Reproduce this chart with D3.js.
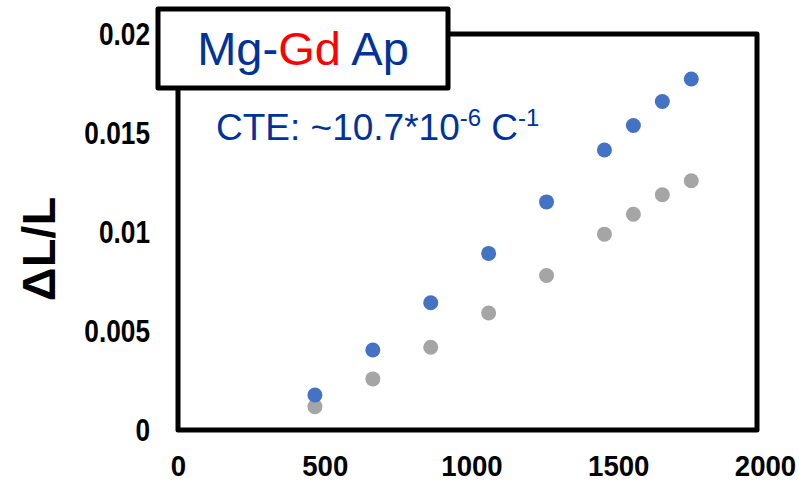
<!DOCTYPE html>
<html>
<head>
<meta charset="utf-8">
<script src="https://cdn.jsdelivr.net/npm/d3@7"></script>
<style>
  body { margin: 0; background: #fff; }
  svg text { font-family: "Liberation Sans", Arial, sans-serif; }
</style>
</head>
<body>
<svg id="chart" width="799" height="482"></svg>
<script>
// Temperature points (x) and dL/L for the two series
var temps = [473, 673, 873, 1073, 1273, 1473, 1573, 1673, 1773];
var blueVals = [0.00177, 0.00404, 0.00643, 0.00892, 0.01152, 0.01414, 0.01538, 0.01659, 0.01773];
var grayVals = [0.00118, 0.00258, 0.00418, 0.00591, 0.0078, 0.00989, 0.0109, 0.01188, 0.01259];
var xTicks = [0, 500, 1000, 1500, 2000];
var yTicks = [0, 0.005, 0.01, 0.015, 0.02];

var svg = d3.select("#chart");

// plot area
var plotLeft = 178, plotRight = 757, plotTop = 34, plotBottom = 430;
var x = d3.scaleLinear().domain([0, 2000]).range([plotLeft, plotRight]);
var y = d3.scaleLinear().domain([0, 0.02]).range([plotBottom, plotTop]);
// tick labels of the x axis sit a little wider than the frame
var xLab = d3.scaleLinear().domain([0, 2000]).range([plotLeft, 765]);

// axes (labels only, frame drawn separately)
var xAxis = d3.axisBottom(xLab).tickValues(xTicks).tickFormat(d3.format("d")).tickSize(0).tickPadding(25);
var gx = svg.append("g").attr("transform", "translate(0," + plotBottom + ")").call(xAxis);
gx.select(".domain").remove();
gx.selectAll("text").attr("font-size", 30).attr("font-weight", "bold").attr("fill", "#000")
  .attr("font-family", "Liberation Sans, Arial, sans-serif")
  .attr("transform", "scale(0.92,1)");

// y labels are a bit condensed in the original
var sy = 0.82;
var yAxis = d3.axisLeft(y).tickValues(yTicks).tickFormat(function (d) { return d === 0 ? "0" : String(+d.toFixed(3)); }).tickSize(0).tickPadding(28);
var gy = svg.append("g").attr("transform", "translate(" + plotLeft + ",0)").call(yAxis);
gy.select(".domain").remove();
gy.selectAll("text").attr("font-size", 32).attr("font-weight", "bold").attr("fill", "#000")
  .attr("font-family", "Liberation Sans, Arial, sans-serif")
  .attr("x", -28 / sy)
  .attr("transform", "scale(" + sy + ",1)");

// frame
svg.append("rect")
  .attr("x", plotLeft).attr("y", plotTop)
  .attr("width", plotRight - plotLeft).attr("height", plotBottom - plotTop)
  .attr("fill", "none").attr("stroke", "#000").attr("stroke-width", 5)
  .attr("stroke-linejoin", "round");

// y axis title
svg.append("text")
  .attr("transform", "translate(38,249) rotate(-90)")
  .attr("text-anchor", "middle").attr("dominant-baseline", "central")
  .attr("font-size", 47).attr("font-weight", "bold").attr("fill", "#000")
  .text("ΔL/L");

// points
svg.append("g").selectAll("circle").data(temps).enter().append("circle")
  .attr("cx", function (d) { return x(d); })
  .attr("cy", function (d, i) { return y(grayVals[i]); })
  .attr("r", 7.5).attr("fill", "#A5A5A5");

svg.append("g").selectAll("circle").data(temps).enter().append("circle")
  .attr("cx", function (d) { return x(d); })
  .attr("cy", function (d, i) { return y(blueVals[i]); })
  .attr("r", 7.5).attr("fill", "#4472C4");

// title box
svg.append("rect")
  .attr("x", 158).attr("y", 9).attr("width", 290).attr("height", 79)
  .attr("fill", "#fff").attr("stroke", "#000").attr("stroke-width", 5)
  .attr("stroke-linejoin", "round");

var title = svg.append("text")
  .attr("x", 303).attr("y", 65).attr("text-anchor", "middle")
  .attr("font-size", 47).attr("fill", "#003399");
title.append("tspan").text("Mg-");
title.append("tspan").attr("fill", "#FF0000").text("Gd");
title.append("tspan").text(" Ap");

// CTE annotation
var cte = svg.append("text")
  .attr("x", 216).attr("y", 140)
  .attr("font-size", 37).attr("fill", "#003399");
cte.append("tspan").text("CTE: ~10.7*10");
cte.append("tspan").attr("font-size", 24).attr("dy", -14).text("-6");
cte.append("tspan").attr("dy", 14).text(" C");
cte.append("tspan").attr("font-size", 24).attr("dy", -14).text("-1");
</script>
</body>
</html>
